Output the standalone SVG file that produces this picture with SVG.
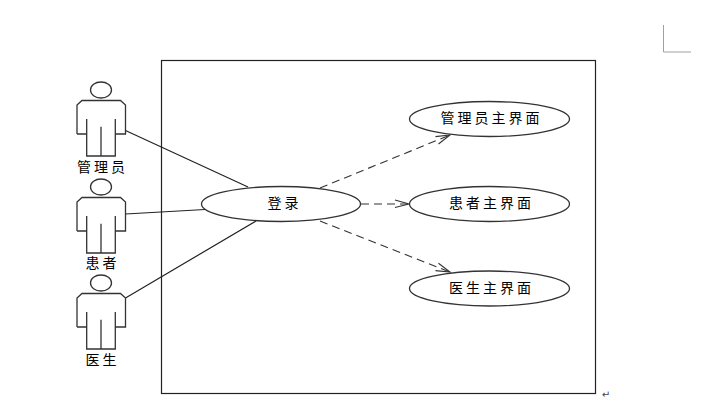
<svg xmlns="http://www.w3.org/2000/svg" width="728" height="407" viewBox="0 0 728 407">
<style>
.s{fill:none;stroke:#222;stroke-width:1.2}
.a{fill:#fff;stroke:#333;stroke-width:1.3}
.d{fill:none;stroke:#333;stroke-width:1.1;stroke-dasharray:8 5}
.h{fill:none;stroke:#333;stroke-width:1.1}
text{font-family:"Noto Sans CJK SC","Noto Sans CJK JP",sans-serif;font-size:14px;letter-spacing:3px;fill:#000;text-anchor:middle}
</style>
<defs>
<g id="actor">
<ellipse cx="101" cy="90" rx="10.5" ry="8" class="a"/>
<path class="a" d="M77 134V105L82 100.500H120.500L125.500 105V134H115.300V119M115.300 134V156H86.700V119M86.700 134H77M101 126.700V156"/>
</g>
</defs>
<rect width="728" height="407" fill="#fff"/>
<path d="M663.500 25V52H691" fill="none" stroke="#a0a0a0" stroke-width="1"/>
<rect id="boundary" x="161.500" y="60.500" width="434" height="333" fill="none" stroke="#222" stroke-width="1.2"/>
<g id="connectors">
<path class="s" d="M125.500 130.500L248 187M125.500 214L205 209.500M125.500 298L256 221"/>
<path class="d" d="M320 188L450 135M361 204H409M320 221L450 272"/>
<path class="h" d="M435.500 136.600L450 135L438.500 144M395 200L409 204L395 207.500M438.500 263.200L450 272L435.500 270.600"/>
</g>
<g id="actor-admin"><use href="#actor"/><text x="102.500" y="172">管理员</text></g>
<g id="actor-patient"><use href="#actor" y="97"/><text x="102.500" y="268">患者</text></g>
<g id="actor-doctor"><use href="#actor" y="193"/><text x="102.500" y="365">医生</text></g>
<g id="uc-login"><ellipse cx="281" cy="204" rx="79.500" ry="17.500" class="a"/><text x="284.500" y="208">登录</text></g>
<g id="uc-admin"><ellipse cx="489.500" cy="119" rx="80" ry="17.500" class="a"/><text x="491.500" y="123">管理员主界面</text></g>
<g id="uc-patient"><ellipse cx="489.500" cy="204" rx="80" ry="17.500" class="a"/><text x="491.500" y="208">患者主界面</text></g>
<g id="uc-doctor"><ellipse cx="489.500" cy="288.500" rx="80" ry="17.500" class="a"/><text x="491.500" y="293">医生主界面</text></g>
<text x="606" y="398" style="font-size:10px;letter-spacing:0;font-family:'DejaVu Sans',sans-serif;fill:#444">↵</text>
</svg>
